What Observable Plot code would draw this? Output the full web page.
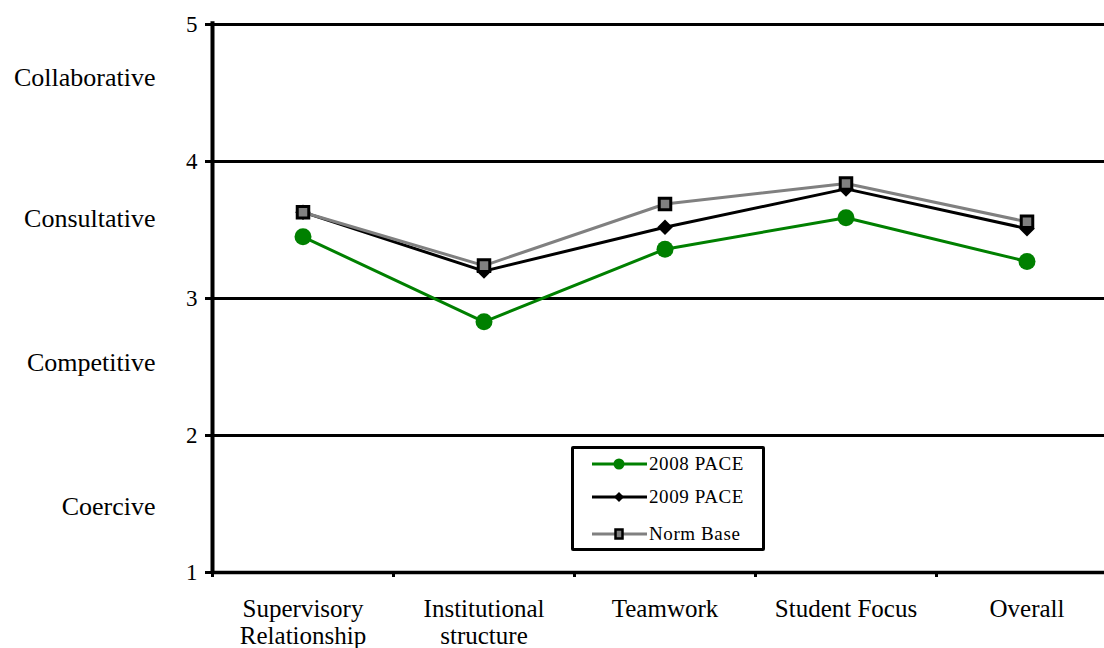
<!DOCTYPE html>
<html>
<head>
<meta charset="utf-8">
<script src="https://cdn.jsdelivr.net/npm/d3@7"></script>
<script src="https://cdn.jsdelivr.net/npm/@observablehq/plot@0.6"></script>
<style>
  html, body { margin: 0; padding: 0; background: white; overflow: hidden; }
  #wrap { position: relative; width: 1104px; height: 648px; }
  #legend { position: absolute; left: 571px; top: 446px; width: 194px; height: 105px; box-sizing: border-box;
            border: 3px solid black; border-radius: 2px; background: white; font-family: 'Liberation Serif', 'Times New Roman', serif; font-size: 19px; letter-spacing: 0.6px; }
  .row { position: absolute; left: 18px; display: flex; align-items: center; height: 22px; white-space: nowrap; }
  .row svg { display: block; margin-right: 2px; }
</style>
</head>
<body>
<div id="wrap"><div id="legend"></div></div>
<script>
const categories = ["Supervisory\nRelationship", "Institutional\nstructure", "Teamwork", "Student Focus", "Overall"];
const pace2008 = [3.45, 2.83, 3.36, 3.59, 3.27];
const pace2009 = [3.63, 3.20, 3.52, 3.80, 3.51];
const normBase = [3.63, 3.24, 3.69, 3.84, 3.56];
const seriesNames = ["2008 PACE", "2009 PACE", "Norm Base"];
const yTicks = [1, 2, 3, 4, 5];
const gridValues = [2, 3, 4, 5];
const levels = ["Coercive", "Competitive", "Consultative", "Collaborative"];
const levelValues = [1.48, 2.53, 3.58, 4.61];

const idx = categories.map((_, i) => i);
const boundaries = categories.map((_, i) => i - 0.5);
const rows = (vals, s) => vals.map((v, i) => ({i, value: v, series: s}));
const d2008 = rows(pace2008, seriesNames[0]);
const d2009 = rows(pace2009, seriesNames[1]);
const dNorm = rows(normBase, seriesNames[2]);
const levelData = levels.map((l, k) => ({label: l, y: levelValues[k]}));

const font = "'Liberation Serif', 'Times New Roman', serif";
const chart = Plot.plot({
  width: 1104,
  height: 648,
  marginLeft: 212,
  marginRight: 0,
  marginTop: 24,
  marginBottom: 76,
  style: {fontFamily: font, fontSize: "22px", background: "white", color: "black", overflow: "visible"},
  x: {type: "linear", domain: [-0.5, categories.length - 0.5], range: [212, 212 + 181 * categories.length], axis: null},
  y: {domain: [1, 5], axis: null},
  marks: [
    Plot.ruleY(gridValues, {stroke: "black", strokeWidth: 3}),
    Plot.ruleY([1], {stroke: "black", strokeWidth: 3.5}),
    Plot.ruleX([-0.5], {stroke: "black", strokeWidth: 4, y1: 1, y2: 5.02}),
    Plot.axisY({ticks: yTicks, tickSize: 7, tickPadding: 8, fontSize: 23, strokeWidth: 3, label: null, tickFormat: d => String(d)}),
    Plot.axisX({ticks: boundaries, tickSize: 5, strokeWidth: 3, label: null, tickFormat: () => ""}),
    Plot.axisX({ticks: idx, tickSize: 0, tickPadding: 25, fontSize: 25, lineHeight: 1.08, label: null, tickFormat: i => categories[i]}),
    Plot.text(levelData, {x: -0.5, y: "y", text: "label", dx: -57, textAnchor: "end", fontSize: 26}),
    Plot.line(d2008, {x: "i", y: "value", stroke: "#008000", strokeWidth: 3}),
    Plot.dot(d2008, {x: "i", y: "value", fill: "#008000", r: 8.5, symbol: "circle"}),
    Plot.line(d2009, {x: "i", y: "value", stroke: "black", strokeWidth: 3}),
    Plot.dot(d2009, {x: "i", y: "value", fill: "black", r: 7, symbol: "diamond2"}),
    Plot.line(dNorm, {x: "i", y: "value", stroke: "#808080", strokeWidth: 3}),
    Plot.dot(dNorm, {x: "i", y: "value", fill: "#808080", stroke: "black", strokeWidth: 3, r: 6.5, symbol: "square"})
  ]
});
document.getElementById("wrap").prepend(chart);

// legend
const legend = document.getElementById("legend");
const swatches = [
  {name: seriesNames[0], stroke: "#008000", marker: "circle"},
  {name: seriesNames[1], stroke: "black", marker: "diamond"},
  {name: seriesNames[2], stroke: "#808080", marker: "square"}
];
const rowTops = [4, 37, 74];
const ns = "http://www.w3.org/2000/svg";
swatches.forEach((s, k) => {
  const row = document.createElement("div");
  row.className = "row";
  row.style.top = rowTops[k] + "px";
  const svg = document.createElementNS(ns, "svg");
  svg.setAttribute("width", 55); svg.setAttribute("height", 20);
  const line = document.createElementNS(ns, "line");
  line.setAttribute("x1", 0); line.setAttribute("x2", 55); line.setAttribute("y1", 10); line.setAttribute("y2", 10);
  line.setAttribute("stroke", s.stroke); line.setAttribute("stroke-width", 3);
  svg.appendChild(line);
  let m;
  if (s.marker === "circle") {
    m = document.createElementNS(ns, "circle");
    m.setAttribute("cx", 27); m.setAttribute("cy", 10); m.setAttribute("r", 5.5); m.setAttribute("fill", "#008000");
  } else if (s.marker === "diamond") {
    m = document.createElementNS(ns, "path");
    m.setAttribute("d", "M27,5L32,10L27,15L22,10Z"); m.setAttribute("fill", "black");
  } else {
    m = document.createElementNS(ns, "rect");
    m.setAttribute("x", 23.5); m.setAttribute("y", 5.5); m.setAttribute("width", 7); m.setAttribute("height", 9);
    m.setAttribute("fill", "#808080"); m.setAttribute("stroke", "black"); m.setAttribute("stroke-width", 2.5);
  }
  svg.appendChild(m);
  row.appendChild(svg);
  const t = document.createElement("span");
  t.textContent = s.name;
  row.appendChild(t);
  legend.appendChild(row);
});
</script>
</body>
</html>
